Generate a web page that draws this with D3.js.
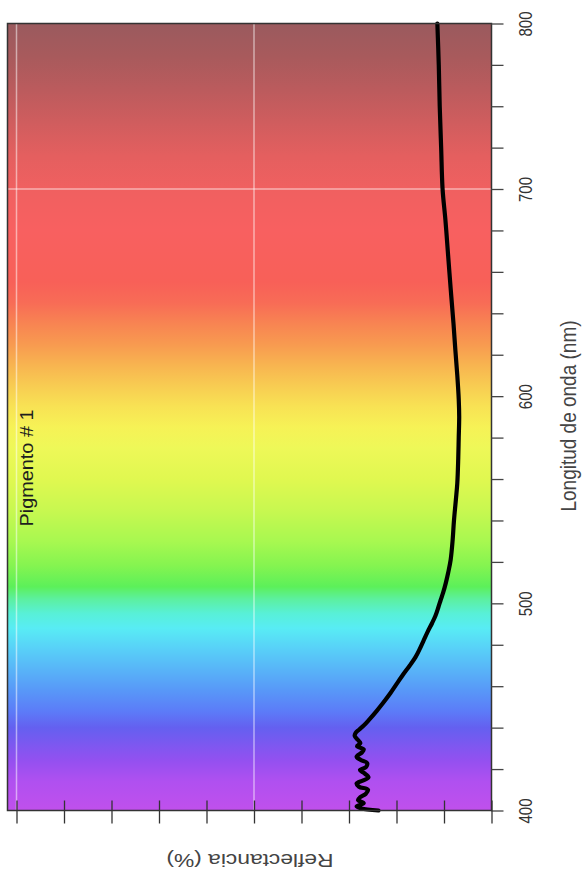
<!DOCTYPE html>
<html>
<head>
<meta charset="utf-8">
<script src="https://cdn.jsdelivr.net/npm/d3@7"></script>
<style>
  html, body { margin: 0; padding: 0; background: #ffffff; }
  svg { display: block; }
</style>
</head>
<body>
<svg id="chart" width="582" height="879"></svg>
<script>
// ---------------- data ----------------
const wavelengths = [400, 401, 402, 403.5, 405, 406.5, 408, 410, 411.5, 413, 414.5, 416, 418, 419.5, 421, 423, 424.5, 426, 428, 429.5, 431, 432.5, 434, 436, 437.5, 439, 441, 444, 448, 452, 456.6, 461, 466, 470, 474, 478, 482, 486, 490.5, 494, 498, 501.6, 505, 510, 515, 521, 530, 540, 550, 558, 570, 580, 590, 598.6, 610, 622, 635, 652, 670, 685, 700, 725, 750, 775, 800];
const reflectance = [23.8, 27.4, 28.4, 26.9, 28.1, 27.6, 26.5, 26.0, 27.9, 28.4, 27.0, 25.9, 26.8, 27.7, 26.4, 26.2, 27.6, 28.4, 27.3, 26.9, 28.3, 27.6, 28.1, 28.8, 28.6, 27.9, 26.9, 25.7, 24.2, 22.8, 21.3, 20.0, 18.5, 17.2, 16.0, 15.1, 14.3, 13.5, 12.5, 11.8, 11.2, 10.7, 10.2, 9.6, 9.1, 8.6, 8.2, 7.9, 7.5, 7.2, 7.0, 6.9, 6.8, 6.9, 7.2, 7.6, 8.0, 8.6, 9.2, 9.7, 10.3, 10.6, 10.9, 11.1, 11.4];

const wavelengthMajorTicks = [400, 500, 600, 700, 800];
const wavelengthMinorTicks = [420, 440, 460, 480, 520, 540, 560, 580, 620, 640, 660, 680, 725, 750, 775];
const reflectanceTicks = [0, 10, 20, 30, 40, 50, 60, 70, 80, 90, 100];
const reflectanceGrid = [50, 100];
const wavelengthGrid = [700];

const spectrumWavelengths = [400, 414, 424, 432, 440, 448, 458, 468, 478, 488, 495, 502, 508, 518, 530, 545, 560, 575, 585, 595, 605, 615, 625, 635, 645, 655, 680, 700, 720, 740, 760, 780, 800];
const spectrumColors = ["#c050ec", "#b050f0", "#9450f0", "#7c58f0", "#6460f0", "#5c7cf8", "#5898f8", "#58b4f8", "#58d0f8", "#58ecf4", "#58f0d8", "#5cf0a0", "#5cf05a", "#84f450", "#a8f850", "#c8f850", "#e0f850", "#eef858", "#f6f256", "#f8e254", "#f8cc52", "#f8b450", "#f89a50", "#f88452", "#f86c56", "#f86058", "#f86060", "#f06060", "#e45f5f", "#d05d5e", "#bb5b5d", "#a85a5c", "#9a5a5e"];

const chartLabel = "Pigmento # 1";
const xTitle = "Longitud de onda (nm)";
const yTitle = "Reflectancia (%)";

// ---------------- layout ----------------
const plotLeft = 7.5, plotRight = 491.5, plotTop = 23.5, plotBottom = 810.5;
const svg = d3.select("#chart");

// wavelength runs vertically (400 bottom, 800 top); reflectance runs horizontally (0 at right)
const yScale = d3.scaleLinear().domain([400, 700, 800]).range([plotBottom, 189, plotTop]);
const xScale = d3.scaleLinear().domain([0, 100]).range([plotRight, 16.5]);

// spectrum gradient (stops ordered top -> bottom)
const defs = svg.append("defs");
const grad = defs.append("linearGradient")
  .attr("id", "spectrum")
  .attr("gradientUnits", "userSpaceOnUse")
  .attr("x1", 0).attr("x2", 0)
  .attr("y1", yScale(800)).attr("y2", yScale(400));
const span = yScale(400) - yScale(800);
const stops = spectrumWavelengths.map((w, i) => ({ w, c: spectrumColors[i], o: (yScale(w) - yScale(800)) / span }))
  .sort((a, b) => a.o - b.o);
grad.selectAll("stop")
  .data(stops)
  .join("stop")
  .attr("offset", d => d.o)
  .attr("stop-color", d => d.c);

svg.append("rect")
  .attr("x", plotLeft).attr("y", plotTop)
  .attr("width", plotRight - plotLeft).attr("height", plotBottom - plotTop)
  .attr("fill", "url(#spectrum)");

// grid lines
svg.append("g").selectAll("line")
  .data(reflectanceGrid).join("line")
  .attr("x1", d => xScale(d)).attr("x2", d => xScale(d))
  .attr("y1", plotTop).attr("y2", plotBottom)
  .attr("stroke", "#ffffff").attr("stroke-opacity", 0.5).attr("stroke-width", 1.5);
svg.append("g").selectAll("line")
  .data(wavelengthGrid).join("line")
  .attr("x1", plotLeft).attr("x2", plotRight)
  .attr("y1", d => yScale(d)).attr("y2", d => yScale(d))
  .attr("stroke", "#ffffff").attr("stroke-opacity", 0.5).attr("stroke-width", 1.5);

// curve
const line = d3.line()
  .x((d, i) => xScale(reflectance[i]))
  .y(d => yScale(d))
  .curve(d3.curveCatmullRom.alpha(0.5));
svg.append("path")
  .datum(wavelengths)
  .attr("d", line)
  .attr("fill", "none")
  .attr("stroke", "#000000")
  .attr("stroke-width", 4.2)
  .attr("stroke-linejoin", "round")
  .attr("stroke-linecap", "round");

// frame
svg.append("rect")
  .attr("x", plotLeft).attr("y", plotTop)
  .attr("width", plotRight - plotLeft).attr("height", plotBottom - plotTop)
  .attr("fill", "none").attr("stroke", "#333").attr("stroke-width", 1.5);

// right (wavelength) axis
const allWaveTicks = wavelengthMajorTicks.concat(wavelengthMinorTicks).sort((a, b) => a - b);
const rightAxis = d3.axisRight(yScale)
  .tickValues(allWaveTicks)
  .tickSize(12)
  .tickFormat(d => wavelengthMajorTicks.includes(d) ? String(d) : "");
const gR = svg.append("g").attr("transform", `translate(${plotRight},0)`).call(rightAxis);
gR.select(".domain").remove();
gR.selectAll(".tick line").attr("stroke", "#444").attr("stroke-width", 1.3);
gR.selectAll(".tick text")
  .attr("x", null).attr("dy", "0.35em")
  .attr("text-anchor", "middle")
  .attr("transform", "translate(34,0) scale(1.2,1) rotate(-90)")
  .attr("font-family", "Liberation Sans, Arial, sans-serif")
  .attr("font-size", 15)
  .attr("fill", "#333");

// bottom (reflectance) axis, ticks crossing the frame, no labels
const bottomAxis = d3.axisBottom(xScale)
  .tickValues(reflectanceTicks)
  .tickSize(13)
  .tickFormat("");
const gB = svg.append("g").attr("transform", `translate(0,${plotBottom})`).call(bottomAxis);
gB.select(".domain").remove();
gB.selectAll(".tick line").attr("y1", -10).attr("stroke", "#333").attr("stroke-width", 1.3);

// titles
svg.append("text")
  .attr("transform", "translate(568,416) scale(1.2,1) rotate(-90)")
  .attr("text-anchor", "middle").attr("dy", "0.35em")
  .attr("font-family", "Liberation Sans, Arial, sans-serif")
  .attr("font-size", 19).attr("fill", "#444")
  .text(xTitle);

svg.append("text")
  .attr("transform", "translate(250,861) scale(1.2,1) rotate(180)")
  .attr("text-anchor", "middle").attr("dy", "0.35em")
  .attr("font-family", "Liberation Sans, Arial, sans-serif")
  .attr("font-size", 19).attr("fill", "#444")
  .text(yTitle);

svg.append("text")
  .attr("transform", "translate(27,468) scale(1.05,1) rotate(-90)")
  .attr("text-anchor", "middle").attr("dy", "0.35em")
  .attr("font-family", "Liberation Sans, Arial, sans-serif")
  .attr("font-size", 17).attr("fill", "#1e1e1e")
  .attr("textLength", 117).attr("lengthAdjust", "spacingAndGlyphs")
  .text(chartLabel);
</script>
</body>
</html>
